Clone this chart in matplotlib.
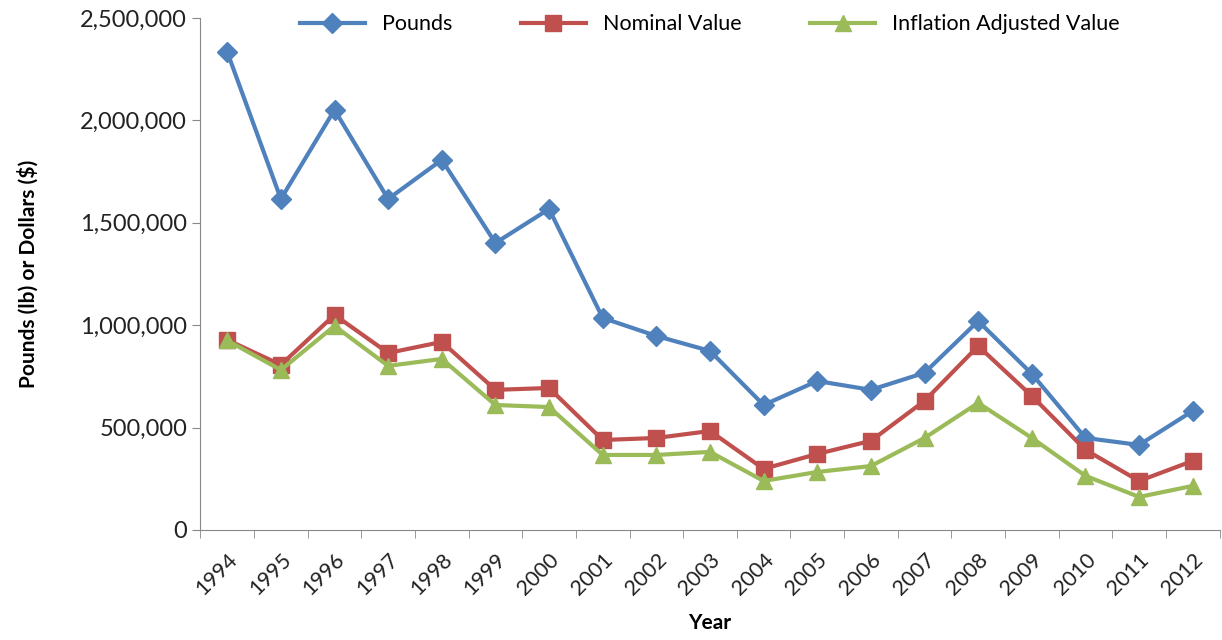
import numpy as np
import matplotlib.pyplot as plt
from matplotlib.ticker import FuncFormatter

plt.rcParams['font.family'] = ['Lato', 'DejaVu Sans']

years = [str(y) for y in range(1994, 2013)]
pounds = [2334000, 1616000, 2051000, 1616000, 1807000, 1401000, 1567000, 1035000, 947000,
          874000, 610000, 727000, 684000, 767000, 1020000, 762000, 449000, 415000, 581000]
nominal = [928000, 806000, 1050000, 864000, 918000, 684000, 693000, 439000, 449000,
           483000, 298000, 371000, 435000, 630000, 898000, 654000, 391000, 239000, 337000]
adjusted = [925000, 781000, 996000, 801000, 835000, 610000, 600000, 366000, 366000,
            381000, 239000, 283000, 312000, 449000, 620000, 449000, 264000, 161000, 215000]

fig = plt.figure(figsize=(12.22, 6.4), dpi=100)
ax = fig.add_axes([0.164, 0.172, 0.834, 0.8])
x = np.arange(len(years))

ax.plot(x, pounds, color='#4F81BD', lw=3, marker='D', ms=10, label='Pounds')
ax.plot(x, nominal, color='#C0504D', lw=3, marker='s', ms=11, label='Nominal Value')
ax.plot(x, adjusted, color='#9BBB59', lw=3, marker='^', ms=12, label='Inflation Adjusted Value')

ax.set_xlim(-0.5, len(years) - 0.5)
ax.set_ylim(0, 2500000)
ax.set_yticks(np.arange(0, 2500001, 500000))
ax.yaxis.set_major_formatter(FuncFormatter(lambda v, p: f'{int(v):,}'))
ax.set_xticks(x)
ax.set_xticklabels(years, rotation=45, ha='right', rotation_mode='anchor')
ax.set_xticks(np.arange(-0.5, len(years)), minor=True)
ax.tick_params(axis='x', which='major', length=0, labelsize=15.5, pad=14, colors='#222222')
ax.tick_params(axis='x', which='minor', length=6, color='#888888')
ax.tick_params(axis='y', length=6, color='#888888', labelsize=17, labelcolor='#222222')
for s in ['top', 'right']:
    ax.spines[s].set_visible(False)
for s in ['left', 'bottom']:
    ax.spines[s].set_color('#888888')

ax.set_xlabel('Year', fontsize=15, fontweight='bold', labelpad=10)
ax.set_ylabel('Pounds (lb) or Dollars ($)', fontsize=15, fontweight='bold', labelpad=30)
ax.legend(loc='upper center', bbox_to_anchor=(0.5, 1.045), ncol=3, frameon=False,
          fontsize=15.5, handlelength=3, columnspacing=3.2)

fig.savefig('out.png', dpi=100)
